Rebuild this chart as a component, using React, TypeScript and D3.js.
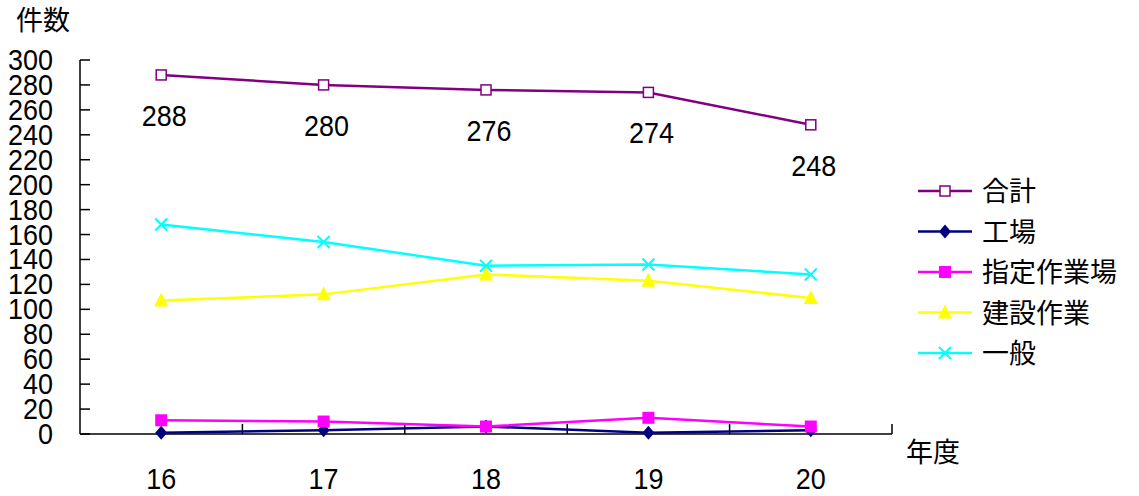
import React, { useEffect, useRef } from 'react';
import * as d3 from 'd3';

const years = ['16', '17', '18', '19', '20'];
const seriesNames = ['合計', '工場', '指定作業場', '建設作業', '一般'];
const totalValues = [288, 280, 276, 274, 248];
const factoryValues = [1, 3, 6, 1, 3];
const workplaceValues = [11, 10, 6, 13, 6];
const constructionValues = [107, 112, 128, 123, 109];
const generalValues = [168, 154, 135, 136, 128];
const yTicks = [0, 20, 40, 60, 80, 100, 120, 140, 160, 180, 200, 220, 240, 260, 280, 300];

const colors = ['#800080', '#000080', '#ff00ff', '#ffff00', '#00ffff'];
const markers = ['openSquare', 'diamond', 'square', 'triangle', 'cross'];

const FONT = '"Liberation Sans", Arial, "Noto Sans CJK JP", sans-serif';
const NUM_FONT = '"Liberation Sans", Arial, sans-serif';

// narrow-looking numbers: squeeze glyphs to ~15px each
const numText = (sel: any, x: number, y: number, s: string, anchor: string) =>
  sel.append('text').attr('x', x).attr('y', y).attr('text-anchor', anchor)
    .attr('font-family', NUM_FONT).attr('font-size', 30)
    .attr('textLength', s.length * 15).attr('lengthAdjust', 'spacingAndGlyphs')
    .text(s);

const App = () => {
  const ref = useRef<SVGSVGElement>(null);

  useEffect(() => {
    const svg = d3.select(ref.current);
    svg.selectAll('*').remove();

    const x0 = 80;
    const x1 = 892;
    const yTop = 60;
    const yBot = 434;

    const x = d3.scaleBand().domain(years).range([x0, x1]);
    const y = d3.scaleLinear().domain([0, 300]).range([yBot, yTop]);
    const cx = (d: string) => (x(d) as number) + x.bandwidth() / 2;

    const data = [totalValues, factoryValues, workplaceValues, constructionValues, generalValues];

    // axes
    const g = svg.append('g');
    g.append('line').attr('x1', x0).attr('x2', x0).attr('y1', yTop).attr('y2', yBot)
      .attr('stroke', '#000').attr('stroke-width', 1.5);
    g.append('line').attr('x1', x0).attr('x2', x1).attr('y1', yBot).attr('y2', yBot)
      .attr('stroke', '#000').attr('stroke-width', 1.5);

    yTicks.forEach((t) => {
      g.append('line').attr('x1', x0).attr('x2', x0 + 10).attr('y1', y(t)).attr('y2', y(t))
        .attr('stroke', '#000').attr('stroke-width', 1.5);
      numText(g, 53, y(t) + 10, String(t), 'end');
    });

    const bounds = years.map((d) => x(d) as number).concat([x1]);
    bounds.slice(1).forEach((b) => {
      g.append('line').attr('x1', b).attr('x2', b).attr('y1', yBot).attr('y2', yBot - 10)
        .attr('stroke', '#000').attr('stroke-width', 1.5);
    });

    years.forEach((d) => numText(g, cx(d), 489, d, 'middle'));

    g.append('text').attr('x', 906).attr('y', 462).attr('font-family', FONT)
      .attr('font-size', 27).text('年度');
    g.append('text').attr('x', 16).attr('y', 30).attr('font-family', FONT)
      .attr('font-size', 27).text('件数');

    const drawMarker = (sel: any, type: string, color: string, px: number, py: number) => {
      if (type === 'openSquare') {
        sel.append('rect').attr('x', px - 5).attr('y', py - 5).attr('width', 10).attr('height', 10)
          .attr('fill', '#fff').attr('stroke', color).attr('stroke-width', 1.5);
      } else if (type === 'square') {
        sel.append('rect').attr('x', px - 6).attr('y', py - 6).attr('width', 12).attr('height', 12)
          .attr('fill', color);
      } else if (type === 'diamond') {
        sel.append('path').attr('d', `M${px},${py - 7}L${px + 6},${py}L${px},${py + 7}L${px - 6},${py}Z`)
          .attr('fill', color);
      } else if (type === 'triangle') {
        sel.append('path').attr('d', `M${px},${py - 8}L${px + 7},${py + 6}L${px - 7},${py + 6}Z`)
          .attr('fill', color);
      } else if (type === 'cross') {
        sel.append('path').attr('d', `M${px - 6},${py - 6}L${px + 6},${py + 6}M${px - 6},${py + 6}L${px + 6},${py - 6}`)
          .attr('stroke', color).attr('stroke-width', 2);
      }
    };

    const line = d3.line<number>().x((_, i) => cx(years[i])).y((v) => y(v));

    data.forEach((vals, si) => {
      const sg = svg.append('g');
      sg.append('path').attr('d', line(vals)).attr('fill', 'none')
        .attr('stroke', colors[si]).attr('stroke-width', 2.5);
      vals.forEach((v, i) => drawMarker(sg, markers[si], colors[si], cx(years[i]), y(v)));
    });

    // data labels for total
    totalValues.forEach((v, i) => numText(svg, cx(years[i]) + 3, y(v) + 51, String(v), 'middle'));

    // legend
    const lg = svg.append('g');
    seriesNames.forEach((name, i) => {
      const ly = 191 + i * 40.5;
      lg.append('line').attr('x1', 918).attr('x2', 972).attr('y1', ly).attr('y2', ly)
        .attr('stroke', colors[i]).attr('stroke-width', 2.5);
      drawMarker(lg, markers[i], colors[i], 945, ly);
      lg.append('text').attr('x', 982).attr('y', ly + 10).attr('font-family', FONT)
        .attr('font-size', 27).text(name);
    });
  }, []);

  return (
    <svg
      ref={ref}
      width={1139}
      height={496}
      style={{ position: 'absolute', left: 0, top: 0, background: '#fff' }}
    />
  );
};

export default App;
